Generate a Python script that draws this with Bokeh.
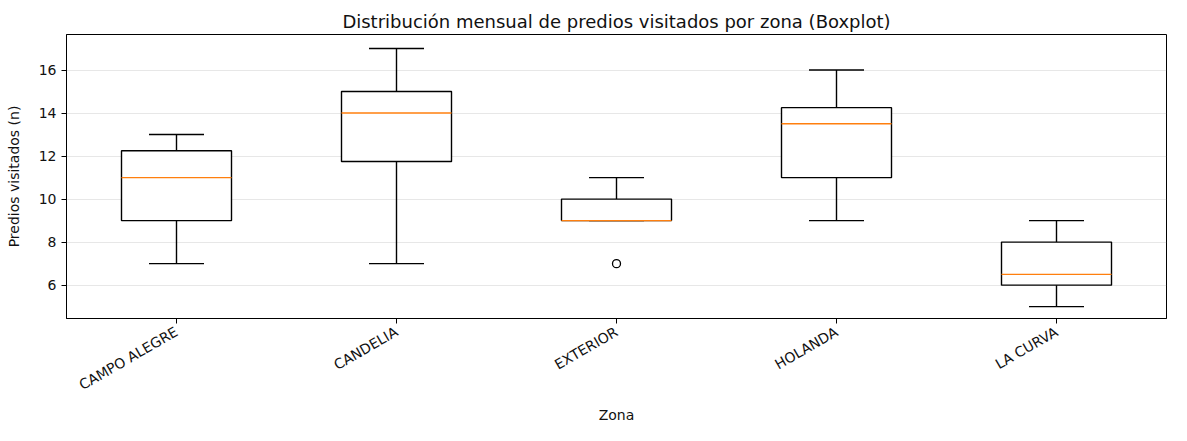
import math
from bokeh.plotting import figure
from bokeh.models import FixedTicker, Range1d
from bokeh.embed import file_html
from bokeh.resources import INLINE

zonas = ["CAMPO ALEGRE", "CANDELIA", "EXTERIOR", "HOLANDA", "LA CURVA"]
whisker_low = [7, 7, 9, 9, 5]
q1 = [9, 11.75, 9, 11, 6]
median = [11, 14, 9, 13.5, 6.5]
q3 = [12.25, 15, 10, 14.25, 8]
whisker_high = [13, 17, 11, 16, 9]
outlier_zona = ["EXTERIOR"]
outlier_val = [7]
y_ticks = [6, 8, 10, 12, 14, 16]

FONT = "DejaVu Sans"
pos = [i + 1 for i in range(len(zonas))]
out_pos = [zonas.index(z) + 1 for z in outlier_zona]

p = figure(width=1171, height=425, output_backend="svg", toolbar_location=None,
           title="Distribución mensual de predios visitados por zona (Boxplot)",
           x_range=Range1d(0.5, 5.5), y_range=Range1d(4.45, 17.65),
           min_border_left=66, min_border_right=5, min_border_top=34, min_border_bottom=96)
p.title.align = "center"
p.title.text_font = FONT
p.title.text_font_size = "18px"
p.title.text_font_style = "normal"
p.title.text_color = "#111111"
p.title.offset = 8
p.title.standoff = 6

p.outline_line_color = "#000000"
p.outline_line_width = 1
p.background_fill_color = "white"
p.border_fill_color = "white"

LW = 1.4
# boxes
p.vbar(x=pos, width=0.5, bottom=q1, top=q3, fill_color="white", line_color="#000000", line_width=LW)
# whiskers
p.segment(x0=pos, x1=pos, y0=q3, y1=whisker_high, line_color="#000000", line_width=LW)
p.segment(x0=pos, x1=pos, y0=q1, y1=whisker_low, line_color="#000000", line_width=LW)
# caps
p.segment(x0=[x - 0.125 for x in pos], x1=[x + 0.125 for x in pos], y0=whisker_high, y1=whisker_high,
          line_color="#000000", line_width=LW)
p.segment(x0=[x - 0.125 for x in pos], x1=[x + 0.125 for x in pos], y0=whisker_low, y1=whisker_low,
          line_color="#000000", line_width=LW)
# medians
p.segment(x0=[x - 0.25 for x in pos], x1=[x + 0.25 for x in pos], y0=median, y1=median,
          line_color="#ff7f0e", line_width=LW)
# outliers
p.scatter(x=out_pos, y=outlier_val, marker="circle", size=8, fill_color=None,
          line_color="#000000", line_width=1.3)

p.xaxis.ticker = FixedTicker(ticks=pos)
p.xaxis.major_label_overrides = {x: z for x, z in zip(pos, zonas)}
p.xaxis.major_label_orientation = math.pi / 6
p.xaxis.major_label_standoff = 7
p.xaxis.axis_label_standoff = 4
p.yaxis.ticker = FixedTicker(ticks=y_ticks)
p.xaxis.axis_label = "Zona"
p.yaxis.axis_label = "Predios visitados (n)"
p.yaxis.axis_label_standoff = 14

for ax in (p.xaxis, p.yaxis):
    ax.major_label_text_font = FONT
    ax.major_label_text_font_size = "14px"
    ax.major_label_text_color = "#111111"
    ax.axis_label_text_font = FONT
    ax.axis_label_text_font_size = "14px"
    ax.axis_label_text_font_style = "normal"
    ax.axis_label_text_color = "#111111"
    ax.major_tick_in = 0
    ax.major_tick_out = 5
    ax.major_tick_line_color = "#000000"
    ax.minor_tick_line_color = None
    ax.axis_line_color = "#000000"

p.xgrid.grid_line_color = None
p.ygrid.grid_line_color = "#b0b0b0"
p.ygrid.grid_line_alpha = 0.3
p.ygrid.ticker = FixedTicker(ticks=y_ticks)

open("out.html", "w").write(file_html(p, INLINE))
